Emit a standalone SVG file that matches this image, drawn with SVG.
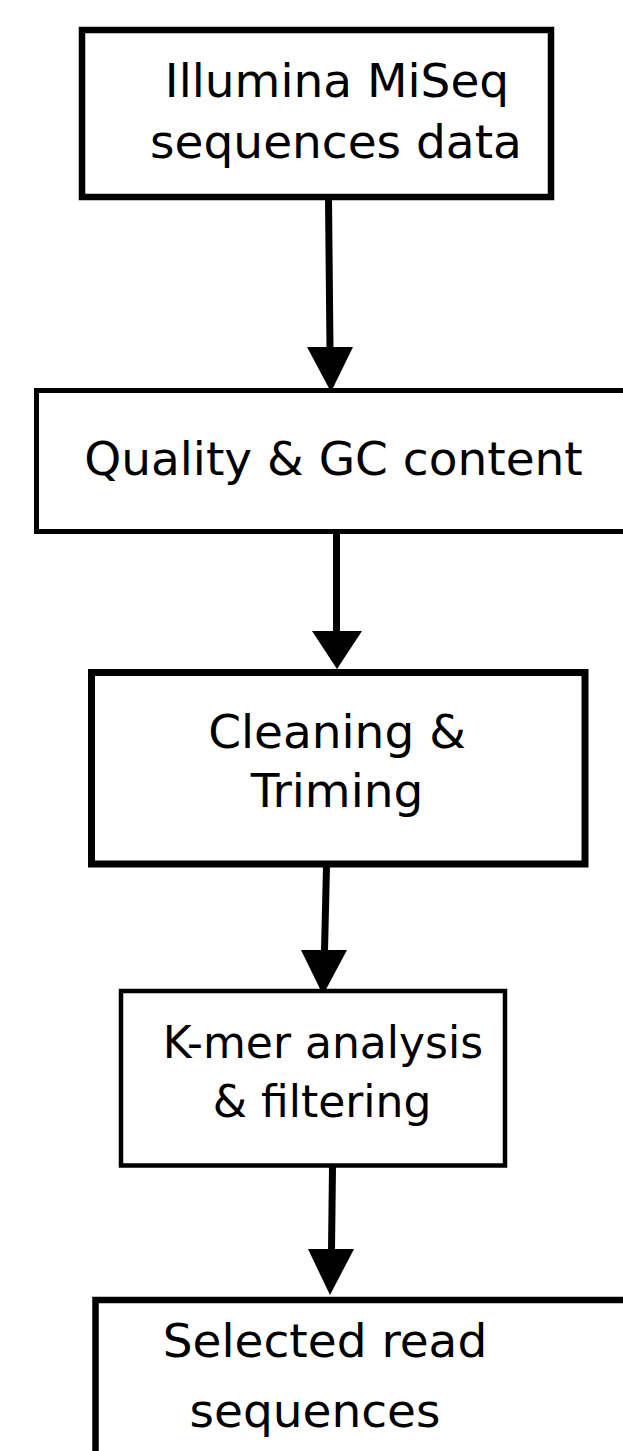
<svg xmlns="http://www.w3.org/2000/svg" width="623" height="1451" viewBox="0 0 623 1451">
<style>
.box{fill:#fff;stroke:#000}
.lbl{font-family:"DejaVu Sans",sans-serif;font-size:47px;fill:#000;text-anchor:middle}
.shaft{stroke:#000;stroke-width:7;fill:none}
.head{fill:#000}
</style>
<rect width="623" height="1451" fill="#fff"/>
<g id="connectors">
<line class="shaft" x1="328.5" y1="199" x2="330" y2="348"/>
<polygon class="head" points="307,347 353,347 331,392"/>
<line class="shaft" x1="336.5" y1="533" x2="336.5" y2="632"/>
<polygon class="head" points="312,631 362,631 337,669"/>
<line class="shaft" x1="326.5" y1="866" x2="324.5" y2="951"/>
<polygon class="head" points="301,950 347,950 323,995"/>
<line class="shaft" x1="332.5" y1="1167" x2="331.5" y2="1250"/>
<polygon class="head" points="308,1249 354,1249 330,1295"/>
</g>
<g id="n1">
<rect class="box" x="82" y="30" width="469" height="167" stroke-width="6.5"/>
<text class="lbl" x="337" y="97">Illumina MiSeq</text>
<text class="lbl" x="336" y="158">sequences data</text>
</g>
<g id="n2">
<rect class="box" x="36.5" y="390.5" width="600" height="141" stroke-width="5"/>
<text class="lbl" x="333.5" y="475">Quality &amp; GC content</text>
</g>
<g id="n3">
<rect class="box" x="91.5" y="672.5" width="493.5" height="191.5" stroke-width="7"/>
<text class="lbl" x="337" y="748">Cleaning &amp;</text>
<text class="lbl" x="337" y="807">Triming</text>
</g>
<g id="n4">
<rect class="box" x="121" y="991" width="384" height="174.5" stroke-width="4.5"/>
<text class="lbl" x="323" y="1058" style="font-size:44px">K-mer analysis</text>
<text class="lbl" x="322" y="1117" style="font-size:44px">&amp; filtering</text>
</g>
<g id="n5">
<rect class="box" x="95.5" y="1300" width="560" height="200" stroke-width="6.5"/>
<text class="lbl" x="325" y="1357">Selected read</text>
<text class="lbl" x="315" y="1427">sequences</text>
</g>
</svg>
